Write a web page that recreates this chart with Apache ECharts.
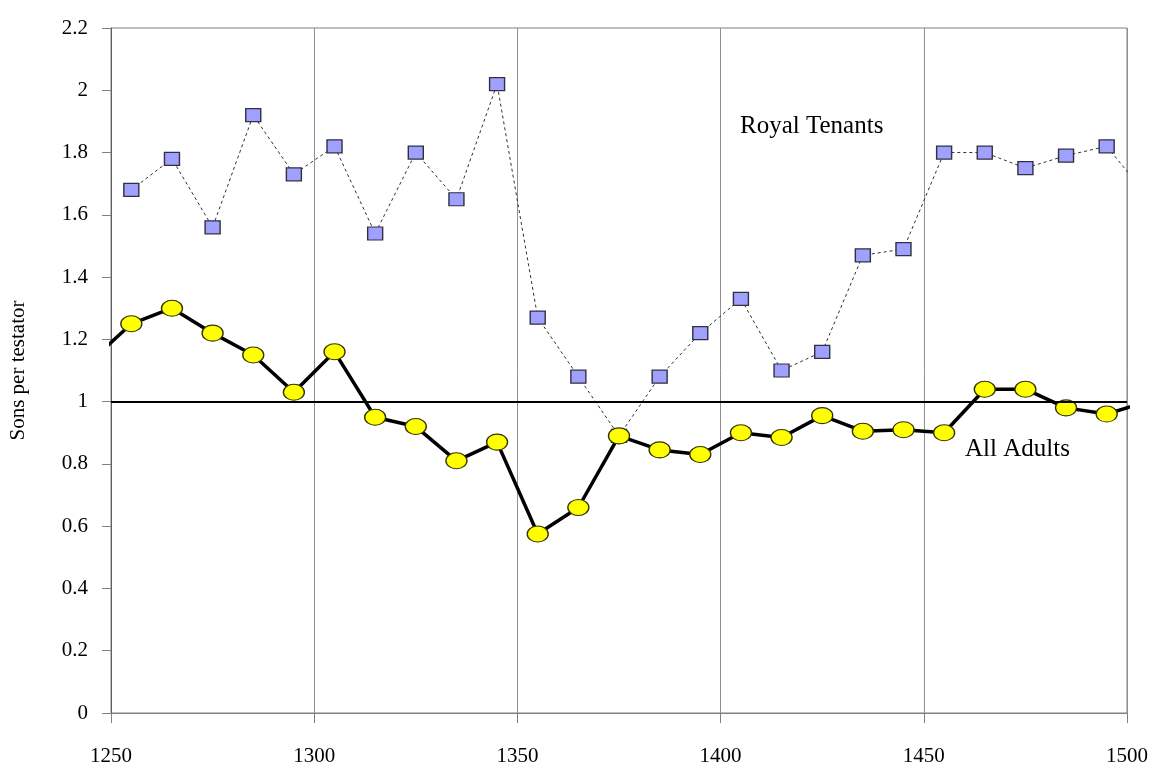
<!DOCTYPE html>
<html>
<head>
<meta charset="utf-8">
<script src="https://cdn.jsdelivr.net/npm/echarts@6/dist/echarts.min.js"></script>
<style>
html,body{margin:0;padding:0;background:#fff;}
#chart{width:1159px;height:783px;}
</style>
</head>
<body>
<div id="chart"></div>
<script>
// Years (decade midpoints; first/last lie just outside the axis range and are clipped)
const royalYears  = [1255,1265,1275,1285,1295,1305,1315,1325,1335,1345,1355,1365,1375,1385,1395,1405,1415,1425,1435,1445,1455,1465,1475,1485,1495,1505];
const royalValues = [1.68,1.78,1.56,1.92,1.73,1.82,1.54,1.80,1.65,2.02,1.27,1.08,0.89,1.08,1.22,1.33,1.10,1.16,1.47,1.49,1.80,1.80,1.75,1.79,1.82,1.66];
const adultYears  = [1245,1255,1265,1275,1285,1295,1305,1315,1325,1335,1345,1355,1365,1375,1385,1395,1405,1415,1425,1435,1445,1455,1465,1475,1485,1495,1505];
const adultValues = [1.13,1.25,1.30,1.22,1.15,1.03,1.16,0.95,0.92,0.81,0.87,0.575,0.66,0.89,0.845,0.83,0.90,0.885,0.955,0.905,0.91,0.90,1.04,1.04,0.98,0.96,1.00];
const xTicks = [1250,1300,1350,1400,1450,1500];
const yTicks = [0,0.2,0.4,0.6,0.8,1,1.2,1.4,1.6,1.8,2,2.2];
const referenceLevel = 1;
const royalLabel = 'Royal Tenants';
const adultLabel = 'All Adults';
const yAxisTitle = 'Sons per testator';

const FONT = '"Liberation Serif","DejaVu Serif",serif';
const ellipse = 'path://M0,10A10,10 0 1,0 20,10A10,10 0 1,0 0,10Z';

const chart = echarts.init(document.getElementById('chart'));
chart.setOption({
  animation: false,
  backgroundColor: '#ffffff',
  grid: {left: 111, right: 32, top: 28, bottom: 70, show: true, borderColor: '#808080', borderWidth: 1, backgroundColor: 'transparent'},
  xAxis: {
    type: 'value', min: xTicks[0], max: xTicks[xTicks.length-1], interval: 50,
    axisLine: {show: true, lineStyle: {color: '#808080', width: 1}},
    axisTick: {show: true, length: 10, lineStyle: {color: '#808080'}},
    axisLabel: {fontFamily: FONT, fontSize: 21, color: '#000', margin: 33, formatter: v => String(v)},
    splitLine: {show: true, lineStyle: {color: '#909090', width: 1}}
  },
  yAxis: {
    type: 'value', min: yTicks[0], max: yTicks[yTicks.length-1], interval: 0.2,
    name: yAxisTitle, nameLocation: 'middle', nameGap: 82,
    nameTextStyle: {fontFamily: FONT, fontSize: 21, color: '#000'},
    axisLine: {show: true, lineStyle: {color: '#606060', width: 1}},
    axisTick: {show: true, length: 9, lineStyle: {color: '#808080'}},
    axisLabel: {fontFamily: FONT, fontSize: 21, color: '#000', margin: 23,
      formatter: v => String(Math.round(v*10)/10)},
    splitLine: {show: false}
  },
  series: [
    {
      type: 'line', name: 'ref', data: [], silent: true, z: 1,
      markLine: {silent: true, symbol: ['none','none'], label: {show: false},
        lineStyle: {color: '#000', width: 2, type: 'solid'},
        data: [{yAxis: referenceLevel}]}
    },
    {
      type: 'line', name: royalLabel, z: 3, clip: true,
      data: royalYears.map((y,i)=>[y, royalValues[i]]),
      symbol: 'rect', symbolSize: [15, 13],
      lineStyle: {color: '#303030', width: 1, type: [3,3]},
      itemStyle: {color: '#a0a0ff', borderColor: '#303040', borderWidth: 1.3}
    },
    {
      type: 'line', name: adultLabel, z: 4, clip: true,
      data: adultYears.map((y,i)=>[y, adultValues[i]]),
      symbol: ellipse, symbolSize: [21, 16],
      lineStyle: {color: '#000', width: 3.5},
      itemStyle: {color: '#ffff00', borderColor: '#333300', borderWidth: 1.2}
    }
  ],
  graphic: [
    {type: 'text', left: 740, top: 114, style: {text: royalLabel, font: '25px ' + FONT, fill: '#000'}},
    {type: 'text', left: 965, top: 437, style: {text: adultLabel, font: '25px ' + FONT, fill: '#000'}}
  ]
});
</script>
</body>
</html>
